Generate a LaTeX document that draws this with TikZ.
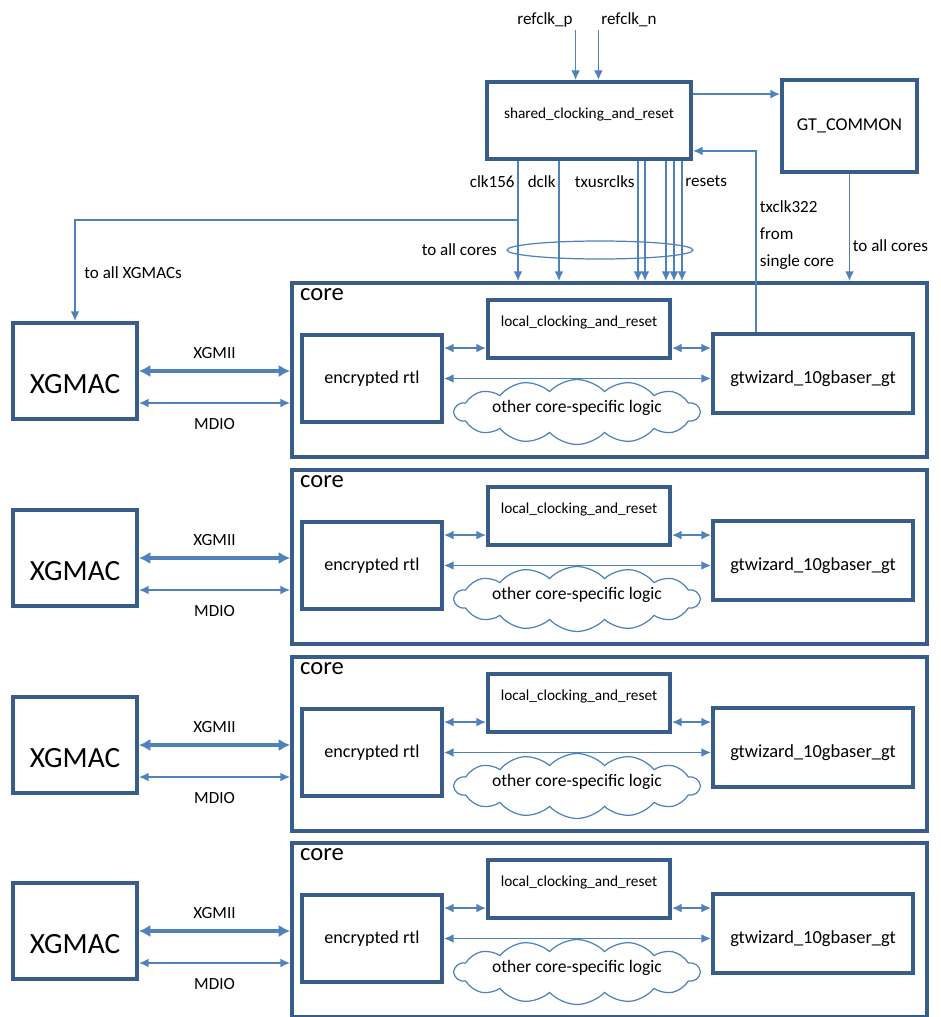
\documentclass[tikz,border=0pt]{standalone}
\usepackage{fontspec}
\setmainfont{Carlito}
\usetikzlibrary{positioning,arrows.meta,shapes.geometric,shapes.symbols}
\definecolor{BoxBlue}{HTML}{385D8A}
\definecolor{LineBlue}{HTML}{4F81BD}

\tikzset{
  blk/.style={draw=BoxBlue, line width=2.2pt, fill=white, align=center, inner sep=2pt},
  corebox/.style={draw=BoxBlue, line width=2.2pt},
  sig/.style={LineBlue, line width=0.9pt, -{Latex[length=5.5pt,width=5pt]}},
  link/.style={LineBlue, line width=0.9pt, {Latex[length=5.5pt,width=5pt]}-{Latex[length=5.5pt,width=5pt]}},
  xgmii/.style={LineBlue, line width=1.9pt, {Latex[length=6.5pt,width=7pt]}-{Latex[length=6.5pt,width=7pt]}},
  lbl/.style={inner sep=1.5pt, text=black},
  logic/.style={cloud, cloud puffs=14, cloud puff arc=95, cloud ignores aspect, draw=LineBlue,
    line width=0.7pt, inner sep=0pt, minimum width=4.9cm, minimum height=1.3cm,
    text height=5pt, text depth=5pt}
}

\begin{document}
\begin{tikzpicture}[x=0.02cm, y=-0.02cm, font=\fontsize{9.7}{11.6}\selectfont]
  \useasboundingbox (0,0) rectangle (940,1017);
  \clip (0,0) rectangle (940,1017);

  % shared blocks
  \node[blk, minimum width=4.08cm, minimum height=1.54cm, text depth=8pt,
    font=\fontsize{8.7}{10}\selectfont] (shared) at (589,120.5) {shared\_clocking\_and\_reset};
  \node[blk, minimum width=2.7cm, minimum height=1.84cm,
    font=\fontsize{10.3}{12}\selectfont] (gtc) at (849.5,126) {GT\_COMMON};

  \node[lbl] (refp) at (545,20) {refclk\_p};
  \node[lbl] (refn) at (629,20) {refclk\_n};
  \draw[sig] (refp.south east) -- (refp.south east |- shared.north);
  \draw[sig] (refn.south west) -- (refn.south west |- shared.north);
  \draw[sig] ([yshift=-0.28cm]shared.north east) -- ([yshift=-0.28cm]shared.north east -| gtc.west);

  % one block per core
  \foreach \i/\dy in {1/0,2/187,3/374,4/560} {
    \node[corebox, minimum width=12.7cm, minimum height=3.48cm] (core\i) at (609.5,370+\dy) {};
    \node[anchor=north west, inner sep=0pt, font=\fontsize{14}{16}\selectfont]
      at ([xshift=5.5pt,yshift=-4pt]core\i.north west) {core};
    \node[blk, minimum width=2.48cm, minimum height=1.92cm, text height=26pt,
      font=\fontsize{16.7}{20}\selectfont] (xg\i) at (75,371+\dy) {XGMAC};
    \node[blk, minimum width=2.8cm, minimum height=1.74cm,
      font=\fontsize{10.3}{12}\selectfont] (enc\i) at (372,378.5+\dy) {encrypted rtl};
    \node[blk, minimum width=3.64cm, minimum height=1.16cm, text depth=9.4pt,
      font=\fontsize{8.7}{10}\selectfont] (local\i) at (579,329+\dy) {local\_clocking\_and\_reset};
    \node[blk, minimum width=4cm, minimum height=1.58cm, text height=13.6pt,
      font=\fontsize{10.5}{12}\selectfont] (gt\i) at (813,373.5+\dy) {gtwizard\_10gbaser\_gt};
    \node[logic, font=\fontsize{10}{12}\selectfont] (other\i) at (577,412+\dy) {other core-specific logic};

    \draw[xgmii] (xg\i.east) -- node[lbl, above=4.6pt] {XGMII} (xg\i.east -| core\i.west);
    \draw[link] ([yshift=-0.64cm]xg\i.east) -- node[lbl, below=7pt] {MDIO}
      ([yshift=-0.64cm]xg\i.east -| core\i.west);
    \draw[link] ([yshift=-0.3cm]enc\i.north east) -- ([yshift=-0.3cm]enc\i.north east -| local\i.west);
    \draw[link] ([yshift=-0.3cm]enc\i.north east -| local\i.east) -- ([yshift=-0.3cm]enc\i.north east -| gt\i.west);
    \draw[link] (enc\i.east) -- (enc\i.east -| gt\i.west);
  }

  % clocks and resets to the cores
  \draw[sig] (shared.south -| 518,0) -- node[lbl, left, pos=0.17] {clk156} (core1.north -| 518,0);
  \draw[sig] (shared.south -| 559,0) -- node[lbl, left, pos=0.17] {dclk} (core1.north -| 559,0);
  \draw[sig] (shared.south -| 638,0) -- node[lbl, left, pos=0.17] {txusrclks} (core1.north -| 638,0);
  \draw[sig] (shared.south -| 645,0) -- (core1.north -| 645,0);
  \draw[sig] (shared.south -| 666,0) -- (core1.north -| 666,0);
  \draw[sig] (shared.south -| 674,0) -- (core1.north -| 674,0);
  \draw[sig] (shared.south -| 682,0) -- node[lbl, right, pos=0.17] {resets} (core1.north -| 682,0);

  \node[ellipse, draw=LineBlue, line width=0.7pt, minimum width=3.72cm, minimum height=0.36cm,
    inner sep=0pt] (bundle) at (600,250) {};
  \node[lbl, left=0.13cm of bundle] {to all cores};

  \coordinate (split) at (518,220);
  \draw[sig] (split) -| node[lbl, pos=0.76, right=0.12cm] {to all XGMACs} (xg1.north);

  \draw[sig] (gtc.south) -- node[lbl, right, pos=0.67] {to all cores} (gtc.south |- core1.north);

  % tx clock back from one core
  \draw[sig] (gt1.north -| 756,0) |- ([yshift=0.2cm]shared.south east);
  \node[lbl, anchor=north west, align=left, font=\fontsize{9.7}{15.3}\selectfont]
    at (757,198) {txclk322\\from\\single core};
\end{tikzpicture}
\end{document}
